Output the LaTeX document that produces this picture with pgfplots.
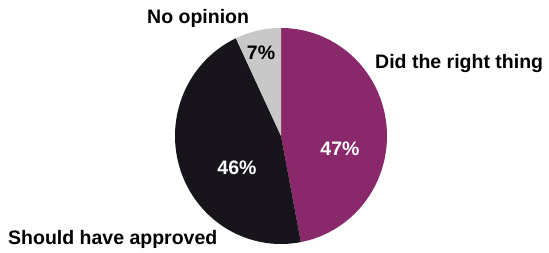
\documentclass[border=0pt]{standalone}
\usepackage{pgfplots}
\pgfplotsset{compat=1.18}
\usepackage{fontspec}
\setmainfont{Liberation Sans}
\definecolor{pieP}{RGB}{138,40,108}
\definecolor{pieK}{RGB}{24,20,27}
\definecolor{pieG}{RGB}{200,200,200}
% shares in percent
\def\vRight{47}
\def\vShould{46}
\def\vNone{7}
\pgfmathsetmacro{\aA}{90}
\pgfmathsetmacro{\aB}{90-3.6*\vRight}
\pgfmathsetmacro{\aC}{\aB-3.6*\vShould}
\pgfmathsetmacro{\aD}{\aC-3.6*\vNone}
\tikzset{lbl/.style={inner sep=0pt, font=\fontsize{19.5}{20}\selectfont\bfseries}}
\begin{document}
\begin{tikzpicture}
\begin{axis}[
  scale only axis, width=549pt, height=253pt,
  xmin=0, xmax=549, ymin=0, ymax=253,
  hide axis, clip=false
]
\path (axis cs:0,0) (axis cs:549,253);
\addplot[fill=pieP, draw=none, domain=\aB:\aA, samples=80]
  ({281+106*cos(x)}, {117+108*sin(x)}) -- (axis cs:281,117) -- cycle;
\addplot[fill=pieK, draw=none, domain=\aC:\aB, samples=80]
  ({281+106*cos(x)}, {117+108*sin(x)}) -- (axis cs:281,117) -- cycle;
\addplot[fill=pieG, draw=none, domain=\aD:\aC, samples=20]
  ({281+106*cos(x)}, {117+108*sin(x)}) -- (axis cs:281,117) -- cycle;
\node[lbl, anchor=base west] at (axis cs:147,229) {No opinion};
\node[lbl, anchor=base west] at (axis cs:375,184) {Did the right thing};
\node[lbl, anchor=base west] at (axis cs:8,8) {Should have approved};
\node[lbl, anchor=base, text=white] at (axis cs:340,97) {\vRight\%};
\node[lbl, anchor=base, text=white] at (axis cs:237,78) {\vShould\%};
\node[lbl, anchor=base, text=black] at (axis cs:261,193) {\vNone\%};
\end{axis}
\end{tikzpicture}
\end{document}
